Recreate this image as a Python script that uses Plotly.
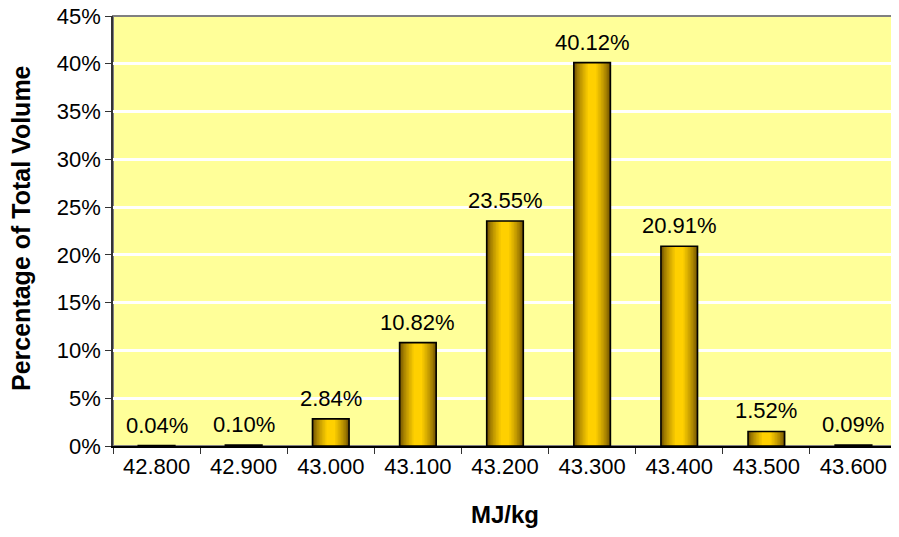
import plotly.graph_objects as go

categories = ["42.800", "42.900", "43.000", "43.100", "43.200", "43.300", "43.400", "43.500", "43.600"]
percentages = [0.04, 0.10, 2.84, 10.82, 23.55, 40.12, 20.91, 1.52, 0.09]
y_tick_vals = [0, 5, 10, 15, 20, 25, 30, 35, 40, 45]
y_tick_text = [f"{v}%" for v in y_tick_vals]
x_title = "MJ/kg"
y_title = "Percentage of Total Volume"

FONT = "Liberation Sans, Arial, sans-serif"
TICK_SIZE = 22
TITLE_SIZE = 24

fig = go.Figure()

# Simulated cylindrical gradient: overlay bars of decreasing width
bar_width = 0.42
layers = 10
dark = (110, 80, 0)
bright = (255, 208, 0)
for i in range(layers):
    t = i / (layers - 1)
    f = t ** 0.7
    c = tuple(int(dark[k] + (bright[k] - dark[k]) * f) for k in range(3))
    w = bar_width * (1 - 0.85 * i / layers)
    fig.add_trace(go.Bar(
        x=categories, y=percentages, width=w,
        marker=dict(color=f"rgb{c}", line=dict(width=0)),
        hoverinfo="skip", showlegend=False,
    ))

# black outline on top
fig.add_trace(go.Bar(
    x=categories, y=percentages, width=bar_width,
    marker=dict(color="rgba(0,0,0,0)", line=dict(color="black", width=1.6)),
    showlegend=False,
))

for i, v in enumerate(percentages):
    fig.add_annotation(x=i, y=v, xref="x", yref="y", text=f"{v:.2f}%", showarrow=False,
                       yanchor="bottom", yshift=6,
                       font=dict(family=FONT, size=TICK_SIZE, color="black"))

# axis titles
fig.add_annotation(x=0, y=0.5, xref="paper", yref="paper", text=f"<b>{y_title}</b>",
                   textangle=-90, showarrow=False, xanchor="center", yanchor="middle",
                   xshift=-92, yshift=3, font=dict(family=FONT, size=TITLE_SIZE + 1, color="black"))
fig.add_annotation(x=0.5, y=0, xref="paper", yref="paper", text=f"<b>{x_title}</b>",
                   showarrow=False, xanchor="center", yanchor="middle",
                   yshift=-68, font=dict(family=FONT, size=TITLE_SIZE, color="black"))

# page body has an 8px margin, so the figure is sized/offset to compensate
fig.update_layout(
    width=891, height=529,
    barmode="overlay",
    paper_bgcolor="white",
    plot_bgcolor="#FFFF99",
    margin=dict(l=105, r=2, t=8, b=91, autoexpand=False),
    font=dict(family=FONT, size=TICK_SIZE, color="black"),
    shapes=[dict(type="rect", xref="paper", yref="paper", x0=0, x1=1, y0=0, y1=1,
                 line=dict(color="#808080", width=2), layer="below")],
)
fig.update_xaxes(
    type="category",
    categoryorder="array", categoryarray=categories,
    range=[-0.5, len(categories) - 0.5],
    tickson="boundaries",
    ticks="outside", ticklen=6, tickcolor="#333333",
    tickangle=0, automargin=False,
    showline=True, linecolor="black", linewidth=1.5,
    showgrid=False,
    tickfont=dict(family=FONT, size=TICK_SIZE),
)
fig.update_yaxes(
    range=[0, 45],
    tickvals=y_tick_vals, ticktext=y_tick_text,
    ticks="outside", ticklen=6, tickcolor="#333333",
    automargin=False, ticklabeloverflow="allow",
    showline=True, linecolor="#333333", linewidth=1.5,
    showgrid=True, gridcolor="white", gridwidth=2.5,
    zeroline=False,
    tickfont=dict(family=FONT, size=TICK_SIZE),
)

fig.write_html("out.html")
